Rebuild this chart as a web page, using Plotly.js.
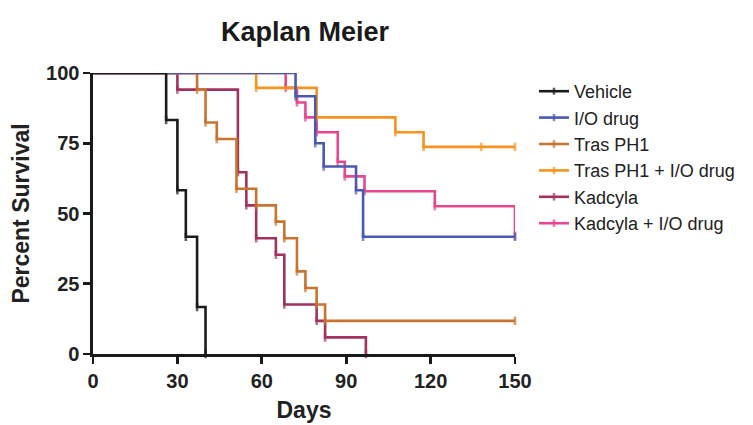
<!DOCTYPE html>
<html>
<head>
<meta charset="utf-8">
<script src="https://cdn.plot.ly/plotly-3.0.1.min.js"></script>
<style>html,body{margin:0;padding:0;background:#fff;}#chart{width:753px;height:425px;}</style>
</head>
<body>
<div id="chart"></div>
<script>
// Kaplan-Meier step data (days, percent survival)
var groupNames = ["Vehicle", "I/O drug", "Tras PH1", "Tras PH1 + I/O drug", "Kadcyla", "Kadcyla + I/O drug"];

var vehicleDays = [0, 26, 30, 33, 37, 40];
var vehicleSurv = [100, 83.3, 58.3, 41.7, 16.7, 0];

var ioDays = [0, 72, 79, 82, 93.5, 96, 150];
var ioSurv = [100, 91.7, 75, 66.7, 58.3, 41.7, 41.7];

var trasDays = [0, 37, 40, 44, 51, 58, 65, 68, 72.5, 75.5, 79.5, 82.5, 150];
var trasSurv = [100, 94.1, 82.4, 76.5, 58.8, 52.9, 47.1, 41.2, 29.4, 23.5, 17.6, 11.8, 11.8];

var trasIoDays = [0, 58, 79.5, 107.5, 117.5, 138, 150];
var trasIoSurv = [100, 94.7, 84.2, 78.9, 73.7, 73.7, 73.7];

var kadDays = [0, 30, 51.5, 54.5, 58, 65, 68, 79.5, 82.5, 97];
var kadSurv = [100, 94.1, 64.7, 52.9, 41.2, 35.3, 17.6, 11.8, 5.9, 0];

var kadIoDays = [0, 68.5, 72.5, 75.5, 79.5, 87, 89.5, 96.5, 121.5, 150];
var kadIoSurv = [100, 94.7, 89.5, 84.2, 78.9, 68.4, 63.2, 57.9, 52.6, 42.1];

var xTicks = [0, 30, 60, 90, 120, 150];
var yTicks = [0, 25, 50, 75, 100];

var colors = ["#1b1b1b", "#4a5ab3", "#c9742f", "#f7941f", "#a3325f", "#e9478d"];

var series = [
  [vehicleDays, vehicleSurv],
  [ioDays, ioSurv],
  [trasDays, trasSurv],
  [trasIoDays, trasIoSurv],
  [kadDays, kadSurv],
  [kadIoDays, kadIoSurv]
];

var traces = [];
for (var i = series.length - 1; i >= 0; i--) {
  var xs = series[i][0], ys = series[i][1];
  var sizes = xs.map(function (v, k) { return k === 0 ? 0 : 6; });
  traces.push({
    x: xs, y: ys, name: groupNames[i],
    type: "scatter", mode: "lines+markers",
    line: { shape: "hv", color: colors[i], width: 2.6 },
    marker: { symbol: "line-ns-open", size: sizes, color: colors[i], line: { color: colors[i], width: 2.6 } },
    cliponaxis: false,
    hoverinfo: "skip"
  });
}

var fam = "Liberation Sans, Arial, sans-serif";

var layout = {
  width: 753, height: 425,
  margin: { l: 93, r: 238, t: 73, b: 71, pad: 0 },
  paper_bgcolor: "#fff", plot_bgcolor: "#fff",
  showlegend: true,
  title: {
    text: "<b>Kaplan Meier</b>",
    font: { family: fam, size: 27, color: "#1a1a1a" },
    x: 0.405, xanchor: "center", y: 0.925, yanchor: "middle"
  },
  xaxis: {
    range: [0, 150], tickvals: xTicks, ticktext: xTicks.map(String),
    showgrid: false, zeroline: false,
    showline: true, linecolor: "#1a1a1a", linewidth: 2.6,
    ticks: "outside", ticklen: 7, tickwidth: 2.6, tickcolor: "#1a1a1a",
    tickfont: { family: fam, size: 20, color: "#222", weight: "bold" },
    title: { text: "<b>Days</b>", font: { family: fam, size: 23, color: "#222" }, standoff: 12 },
    fixedrange: true
  },
  yaxis: {
    range: [0, 100], tickvals: yTicks, ticktext: yTicks.map(String),
    showgrid: false, zeroline: false,
    showline: true, linecolor: "#1a1a1a", linewidth: 2.6,
    ticks: "outside", ticklen: 7, tickwidth: 2.6, tickcolor: "#1a1a1a",
    tickfont: { family: fam, size: 20, color: "#222", weight: "bold" },
    title: { text: "<b>Percent Survival</b>", font: { family: fam, size: 23, color: "#222" }, standoff: 10 },
    fixedrange: true
  },
  legend: {
    x: 1.045, xanchor: "left", y: 1.0, yanchor: "top",
    traceorder: "reversed",
    font: { family: fam, size: 18, color: "#222" },
    tracegroupgap: 0, itemwidth: 30,
    bgcolor: "rgba(0,0,0,0)"
  },
  hovermode: false
};

Plotly.newPlot("chart", traces, layout, { displayModeBar: false, staticPlot: true });
</script>
</body>
</html>
